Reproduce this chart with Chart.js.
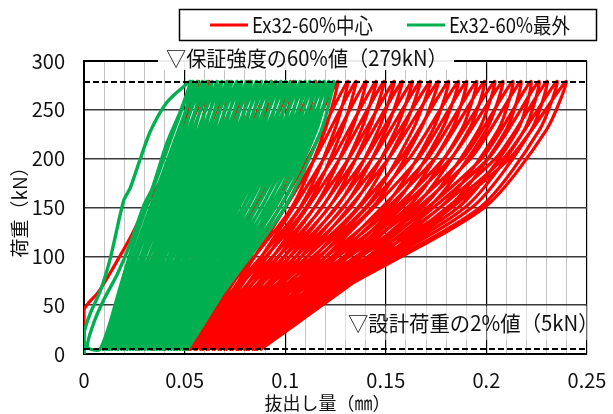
<!DOCTYPE html>
<html><head><meta charset="utf-8">
<script src="https://cdn.jsdelivr.net/npm/chart.js@4.4.0/dist/chart.umd.min.js"></script>
<style>html,body{margin:0;padding:0;background:#fff}#wrap{width:613px;height:414px}</style>
</head><body><div id="wrap"><canvas id="c" width="613" height="414"></canvas></div>
<script>
// ---------------- data ----------------
const seriesNames = ['Ex32-60%中心', 'Ex32-60%最外'];
const xTickValues = [0, 0.05, 0.1, 0.15, 0.2, 0.25];
const xTickLabels = ['0', '0.05', '0.1', '0.15', '0.2', '0.25'];
const refLoads = [279, 5];                 // kN: 60% of guaranteed strength, 2% of design load
const refLabels = ['▽保証強度の60%値（279kN）', '▽設計荷重の2%値（5kN）'];
// load levels (kN) at which each cycle is sampled: start, up60, up150, up230, peak, down200, down100
const cycleLoads = [5, 60, 150, 230, 279, 200, 100];

// Ex32-60% centre (red): first loading, then cycles
const redInitX = [0, 0, 0.0074, 0.0147, 0.023, 0.0313, 0.044, 0.052, 0.057, 0.050, 0.035, 0.020];
const redInitY = [0, 45, 64, 89, 119, 153, 200, 250, 279, 230, 130, 50];
const redStart = [0.012, 0.020, 0.027, 0.034, 0.040, 0.046, 0.050, 0.052, 0.053, 0.055, 0.056, 0.058, 0.059, 0.061, 0.062, 0.064, 0.065, 0.067, 0.068, 0.070, 0.071, 0.073, 0.074, 0.076, 0.077, 0.078, 0.080, 0.081, 0.082, 0.084, 0.085, 0.086, 0.088];
const redUp60 = [0.0245, 0.0330, 0.0408, 0.0488, 0.0560, 0.0633, 0.0690, 0.0718, 0.0735, 0.0763, 0.0783, 0.0808, 0.0828, 0.0853, 0.0873, 0.0898, 0.0918, 0.0943, 0.0963, 0.0984, 0.1002, 0.1029, 0.1046, 0.1074, 0.1091, 0.1111, 0.1129, 0.1148, 0.1166, 0.1190, 0.1210, 0.1228];
const redUp150 = [0.0470, 0.0564, 0.0655, 0.0753, 0.0848, 0.0943, 0.1032, 0.1073, 0.1104, 0.1145, 0.1183, 0.1217, 0.1255, 0.1289, 0.1327, 0.1361, 0.1399, 0.1433, 0.1490, 0.1530, 0.1567, 0.1608, 0.1640, 0.1682, 0.1713, 0.1770, 0.1810, 0.1860, 0.1893, 0.1928, 0.1968, 0.1990];
const redUp230 = [0.0580, 0.0678, 0.0776, 0.0883, 0.0989, 0.1095, 0.1199, 0.1247, 0.1284, 0.1332, 0.1379, 0.1417, 0.1464, 0.1502, 0.1550, 0.1588, 0.1635, 0.1673, 0.1735, 0.1780, 0.1829, 0.1877, 0.1915, 0.1963, 0.2001, 0.2060, 0.2100, 0.2157, 0.2190, 0.2225, 0.2265, 0.2300];
const redPeak = [0.062, 0.072, 0.082, 0.093, 0.104, 0.115, 0.126, 0.131, 0.135, 0.140, 0.145, 0.149, 0.154, 0.158, 0.163, 0.167, 0.172, 0.176, 0.181, 0.186, 0.190, 0.195, 0.199, 0.204, 0.208, 0.213, 0.217, 0.222, 0.226, 0.230, 0.235, 0.2395];
const redDown200 = [0.0469, 0.0565, 0.0661, 0.0764, 0.0866, 0.0968, 0.1066, 0.1112, 0.1147, 0.1192, 0.1236, 0.1272, 0.1316, 0.1352, 0.1396, 0.1433, 0.1477, 0.1513, 0.1573, 0.1616, 0.1661, 0.1706, 0.1742, 0.1788, 0.1823, 0.1881, 0.1921, 0.1976, 0.2009, 0.2044, 0.2084, 0.2114];
const redDown100 = [0.0295, 0.0384, 0.0468, 0.0556, 0.0638, 0.0721, 0.0792, 0.0826, 0.0849, 0.0883, 0.0911, 0.0940, 0.0968, 0.0997, 0.1025, 0.1054, 0.1082, 0.1111, 0.1147, 0.1176, 0.1203, 0.1236, 0.1260, 0.1294, 0.1317, 0.1354, 0.1381, 0.1414, 0.1439, 0.1468, 0.1497, 0.1516];

// Ex32-60% outermost (green): first loading, then cycles
const greenInitX = [0, 0, 0.0032, 0.0082, 0.0132, 0.0197, 0.023, 0.027, 0.033, 0.0413, 0.0513, 0.053, 0.048, 0.041, 0.034, 0.0297, 0.023, 0.0166, 0.0097, 0.0047, 0.0017];
const greenInitY = [0, 21, 42, 65, 99, 157, 170, 194, 228, 258, 277, 279, 249, 215, 170, 152, 113, 82, 55, 31, 7];
const greenStart = [0.0080, 0.0095, 0.0110, 0.0126, 0.0140, 0.0156, 0.0170, 0.0186, 0.0200, 0.0215, 0.0230, 0.0244, 0.0259, 0.0274, 0.0288, 0.0303, 0.0318, 0.0332, 0.0347, 0.0361, 0.0376, 0.0390, 0.0405, 0.0420, 0.0434, 0.0449, 0.0463, 0.0478, 0.0492, 0.0506, 0.0515];
const greenUp60 = [0.0172, 0.0189, 0.0207, 0.0225, 0.0242, 0.0261, 0.0277, 0.0296, 0.0312, 0.0331, 0.0348, 0.0365, 0.0383, 0.0401, 0.0418, 0.0436, 0.0454, 0.0471, 0.0489, 0.0506, 0.0524, 0.0541, 0.0559, 0.0577, 0.0594, 0.0612, 0.0630, 0.0648, 0.0665, 0.0682];
const greenUp150 = [0.0338, 0.0358, 0.0382, 0.0402, 0.0425, 0.0448, 0.0470, 0.0494, 0.0514, 0.0539, 0.0560, 0.0584, 0.0606, 0.0629, 0.0651, 0.0674, 0.0697, 0.0720, 0.0743, 0.0766, 0.0789, 0.0812, 0.0836, 0.0859, 0.0882, 0.0906, 0.0929, 0.0951, 0.0974, 0.0998];
const greenUp230 = [0.0480, 0.0502, 0.0527, 0.0550, 0.0575, 0.0600, 0.0622, 0.0648, 0.0671, 0.0698, 0.0720, 0.0745, 0.0769, 0.0794, 0.0817, 0.0842, 0.0867, 0.0890, 0.0916, 0.0940, 0.0964, 0.0988, 0.1013, 0.1037, 0.1061, 0.1085, 0.1110, 0.1134, 0.1157, 0.1181];
const greenPeak = [0.0540, 0.0562, 0.0588, 0.0610, 0.0636, 0.0661, 0.0684, 0.0710, 0.0733, 0.0760, 0.0782, 0.0808, 0.0831, 0.0857, 0.0880, 0.0905, 0.0929, 0.0953, 0.0978, 0.1002, 0.1026, 0.1050, 0.1075, 0.1098, 0.1122, 0.1146, 0.1170, 0.1193, 0.1216, 0.1240];
const greenDown200 = [0.0397, 0.0418, 0.0443, 0.0465, 0.0489, 0.0513, 0.0535, 0.0560, 0.0582, 0.0608, 0.0630, 0.0655, 0.0678, 0.0702, 0.0725, 0.0749, 0.0773, 0.0796, 0.0821, 0.0845, 0.0868, 0.0892, 0.0917, 0.0940, 0.0964, 0.0988, 0.1012, 0.1035, 0.1058, 0.1082];
const greenDown100 = [0.0226, 0.0244, 0.0265, 0.0284, 0.0303, 0.0324, 0.0343, 0.0364, 0.0382, 0.0403, 0.0422, 0.0442, 0.0462, 0.0482, 0.0501, 0.0522, 0.0542, 0.0562, 0.0582, 0.0601, 0.0622, 0.0641, 0.0662, 0.0682, 0.0702, 0.0723, 0.0743, 0.0763, 0.0782, 0.0802];

// ---------------- build point tables from the arrays ----------------
function buildPath(initX, initY, start, up60, up150, up230, peak, down200, down100) {
  const pts = initX.map((x, k) => ({x: x, y: initY[k]}));
  const cols = [start, up60, up150, up230, peak, down200, down100];
  for (let i = 0; i < peak.length; i++) {
    cols.forEach((col, j) => pts.push({x: col[i], y: cycleLoads[j]}));
  }
  pts.push({x: start[peak.length], y: cycleLoads[0]});
  return pts;
}
const redPts = buildPath(redInitX, redInitY, redStart, redUp60, redUp150, redUp230, redPeak, redDown200, redDown100);
const greenPts = buildPath(greenInitX, greenInitY, greenStart, greenUp60, greenUp150, greenUp230, greenPeak, greenDown200, greenDown100);

const COLORS = {red: '#FF0000', green: '#00B050'};
const NARROW = '"Liberation Sans Narrow", "Noto Sans CJK JP", sans-serif';
const JP = '"Noto Sans CJK JP", sans-serif';
const isMajor = v => xTickValues.some(m => Math.abs(m - v) < 1e-9);

function condensedText(ctx, text, x, y, sx) {
  ctx.save(); ctx.translate(x, y); ctx.scale(sx, 1); ctx.fillText(text, 0, 0); ctx.restore();
}

const annotate = {
  id: 'annotate',
  afterDatasetsDraw(chart) {
    const {ctx, chartArea: a, scales: {y}} = chart;
    ctx.save();
    ctx.strokeStyle = '#000'; ctx.lineWidth = 2; ctx.setLineDash([6, 3]);
    refLoads.forEach(v => {
      const py = Math.round(y.getPixelForValue(v));
      ctx.beginPath(); ctx.moveTo(a.left, py); ctx.lineTo(a.right, py); ctx.stroke();
    });
    ctx.setLineDash([]);
    ctx.font = '21px ' + NARROW;
    ctx.textBaseline = 'middle'; ctx.textAlign = 'left';
    ctx.fillStyle = 'rgba(255,255,255,0.92)';
    ctx.fillRect(158, 45, 296, 25);
    ctx.fillStyle = '#111';
    condensedText(ctx, refLabels[0], 166, 58, 0.96);
    ctx.fillStyle = 'rgba(255,255,255,0.45)';
    ctx.fillRect(343, 306, a.right - 343, 34);
    ctx.fillStyle = '#111';
    condensedText(ctx, refLabels[1], 348, 323, 0.97);
    ctx.restore();
  },
  afterDraw(chart) {
    const {ctx} = chart;
    ctx.save();
    ctx.strokeStyle = '#000'; ctx.lineWidth = 1.5;
    ctx.strokeRect(179.5, 9.5, 417, 31);
    const items = [
      {name: seriesNames[0], color: COLORS.red, x0: 210},
      {name: seriesNames[1], color: COLORS.green, x0: 407}
    ];
    ctx.font = '21px ' + NARROW;
    ctx.textBaseline = 'middle'; ctx.textAlign = 'left';
    items.forEach(it => {
      ctx.strokeStyle = it.color; ctx.lineWidth = 3;
      ctx.beginPath(); ctx.moveTo(it.x0, 25); ctx.lineTo(it.x0 + 38, 25); ctx.stroke();
      ctx.fillStyle = '#111';
      condensedText(ctx, it.name, it.x0 + 42, 25, 0.88);
    });
    ctx.restore();
  }
};

const lineStyle = {showLine: true, pointRadius: 0, tension: 0.25, borderJoinStyle: 'round', borderCapStyle: 'round'};

new Chart(document.getElementById('c'), {
  type: 'scatter',
  data: {
    datasets: [
      Object.assign({label: seriesNames[1], data: greenPts, borderColor: COLORS.green, backgroundColor: COLORS.green, borderWidth: 3.4}, lineStyle),
      Object.assign({label: seriesNames[0], data: redPts, borderColor: COLORS.red, backgroundColor: COLORS.red, borderWidth: 3.2}, lineStyle)
    ]
  },
  options: {
    responsive: false, animation: false, devicePixelRatio: 1,
    layout: {padding: {left: 0, right: 26, top: 61, bottom: 0}},
    plugins: {legend: {display: false}, tooltip: {enabled: false}},
    scales: {
      x: {
        type: 'linear', min: 0, max: 0.25,
        afterFit(s) { s.height = 60; s.paddingLeft = 0; s.paddingRight = 0; },
        ticks: {stepSize: 0.01, autoSkip: false, maxRotation: 0, padding: 14, color: '#111',
                font: {family: NARROW, size: 20},
                callback: v => { const k = xTickValues.findIndex(m => Math.abs(m - v) < 1e-9); return k >= 0 ? xTickLabels[k] : ''; }},
        grid: {drawTicks: false,
               color: c => isMajor(c.tick.value) ? '#000' : '#c4c4c4',
               lineWidth: c => isMajor(c.tick.value) ? 1.2 : 1},
        border: {display: true, color: '#000', width: 2},
        title: {display: true, text: '抜出し量（㎜）    ', color: '#111', font: {family: JP, size: 18}, padding: {top: 0, bottom: 0}}
      },
      y: {
        type: 'linear', min: 0, max: 300,
        afterFit(s) { s.width = 84; s.paddingTop = 0; s.paddingBottom = 0; },
        ticks: {stepSize: 50, padding: 19, color: '#111', font: {family: NARROW, size: 20}},
        grid: {drawTicks: false,
               color: c => (c.tick.value === 300 || c.tick.value === 0) ? '#000' : '#3a3a3a',
               lineWidth: c => c.tick.value === 300 ? 2 : 1.5},
        border: {display: true, color: '#000', width: 2},
        title: {display: true, text: '荷重（kN）', color: '#111', font: {family: JP, size: 19}, padding: {top: 8, bottom: 0}}
      }
    }
  },
  plugins: [annotate]
});
</script></body></html>
